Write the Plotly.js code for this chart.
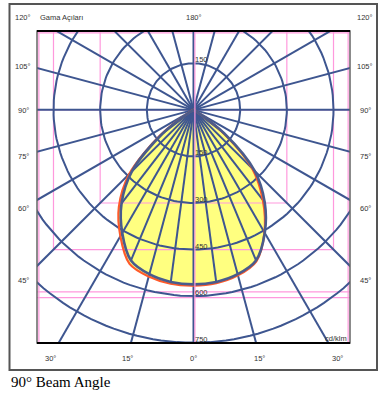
<!DOCTYPE html>
<html><head><meta charset="utf-8">
<script src="https://cdn.plot.ly/plotly-3.0.1.min.js"></script>
<style>html,body{margin:0;padding:0;background:#fff;} #chart{width:386px;height:396px;}</style>
</head><body><div id="chart"></div>
<script>
// ---- data ----
const gammaDeg     = [0, 7.5, 15, 22.5, 30, 37.5, 45, 52.5, 60, 67.5, 75, 82.5, 90];
const blueRight    = [562, 559, 548, 525, 458, 376, 278, 125, 12, 0, 0, 0, 0];
const blueLeft     = [562, 559, 548, 525, 458, 380, 280, 125, 12, 0, 0, 0, 0];
const orangeRight  = [566, 563, 552, 528, 456, 366, 266, 112, 10, 0, 0, 0, 0];
const orangeLeft   = [566, 565, 556, 537, 470, 394, 292, 135, 16, 0, 0, 0, 0];
const ringValues   = [150, 300, 450, 600, 750];
const ringLabels   = ['150', '300', '450', '600', '750'];
const spokeStepDeg = 15;
const sideLabels   = ['120°', '105°', '90°', '75°', '60°', '45°'];
const bottomLabels = ['30°', '15°', '0°', '15°', '30°'];
const topLabel     = '180°';
const axisTitle    = 'Gama Açıları';
const unitLabel    = 'cd/klm';
const caption      = '90° Beam Angle';
const pinkLevels   = [-586, -605];

// ---- layout helpers ----
const L = 37, T = 31, W = 313, H = 312;
const px = x => (x - L) / W;
const py = y => (T + H - y) / H;
const rad = d => d * Math.PI / 180;
const BLUE = '#3e5690', PINK = '#ff99dd';

function curve(right, left) {
  const x = [], y = [];
  for (let i = left.length - 1; i >= 1; i--) { const g = -gammaDeg[i]; x.push(left[i] * Math.sin(rad(g))); y.push(-left[i] * Math.cos(rad(g))); }
  for (let i = 0; i < right.length; i++) { const g = gammaDeg[i]; x.push(right[i] * Math.sin(rad(g))); y.push(-right[i] * Math.cos(rad(g))); }
  return {x, y};
}
const blueC = curve(blueRight, blueLeft);
const orangeC = curve(orangeRight, orangeLeft);

// rings
const ringX = [], ringY = [];
ringValues.forEach(r => { for (let a = 0; a <= 360; a += 2) { ringX.push(r * Math.cos(rad(a))); ringY.push(r * Math.sin(rad(a))); } ringX.push(null); ringY.push(null); });
// spokes every 15 deg
const spX = [], spY = [];
const far = 3000;
for (let g = 0; g < 360; g += spokeStepDeg) { spX.push(0, far * Math.sin(rad(g)), null); spY.push(0, -far * Math.cos(rad(g)), null); }
// intermediate spokes to the measured points
const inX = [], inY = [];
gammaDeg.forEach((g, i) => {
  if (g % spokeStepDeg !== 0) {
    if (blueRight[i] > 0) { inX.push(0, blueRight[i] * Math.sin(rad(g)), null); inY.push(0, -blueRight[i] * Math.cos(rad(g)), null); }
    if (blueLeft[i] > 0) { inX.push(0, -blueLeft[i] * Math.sin(rad(g)), null); inY.push(0, -blueLeft[i] * Math.cos(rad(g)), null); }
  }
});
// pink lines
const pkX = [], pkY = [];
const xr = [-503, 503], yr = [-751, 254];
const edgeX = 497, edgeTop = 248;
pkX.push(xr[0], xr[1], null); pkY.push(0, 0, null);
[ringValues[1], ringValues[2]].forEach(v => { pkX.push(-v, -v, v, v, null); pkY.push(yr[1], -v, -v, yr[1], null); });
pinkLevels.forEach(v => { pkX.push(xr[0], xr[1], null); pkY.push(v, v, null); });
pkX.push(-edgeX, -edgeX, null, edgeX, edgeX, null, xr[0], xr[1], null); pkY.push(yr[0], yr[1], null, yr[0], yr[1], null, edgeTop, edgeTop, null);

const SM = 0.9;
const traces = [
  {x: orangeC.x, y: orangeC.y, mode: 'lines', fill: 'toself', fillcolor: '#ffff80', line: {width: 0, shape: 'spline', smoothing: SM}, hoverinfo: 'skip'},
  {x: pkX, y: pkY, mode: 'lines', line: {color: PINK, width: 1.2}, hoverinfo: 'skip'},
  {x: ringX, y: ringY, mode: 'lines', line: {color: BLUE, width: 2}, hoverinfo: 'skip'},
  {x: spX, y: spY, mode: 'lines', line: {color: BLUE, width: 2}, hoverinfo: 'skip'},
  {x: inX, y: inY, mode: 'lines', line: {color: BLUE, width: 2}, hoverinfo: 'skip'},
  {x: orangeC.x, y: orangeC.y, mode: 'lines', line: {color: '#ff5a2a', width: 2.2, shape: 'spline', smoothing: SM}, hoverinfo: 'skip'},
  {x: blueC.x, y: blueC.y, mode: 'lines', line: {color: '#4a5c8c', width: 2.6, shape: 'spline', smoothing: SM}, hoverinfo: 'skip'}
];

const lf = {family: 'Liberation Sans, Arial, sans-serif', size: 7.5, color: '#333'};
const ann = [];
const sideY = [18, 66, 110, 156, 208, 280];
sideLabels.forEach((t, i) => {
  ann.push({xref: 'paper', yref: 'paper', x: px(23), y: py(sideY[i]), text: t, showarrow: false, xanchor: 'center', yanchor: 'middle', font: lf});
  ann.push({xref: 'paper', yref: 'paper', x: px(365), y: py(sideY[i]), text: t, showarrow: false, xanchor: 'center', yanchor: 'middle', font: lf});
});
const botX = [50, 127, 193.5, 259, 337];
bottomLabels.forEach((t, i) => ann.push({xref: 'paper', yref: 'paper', x: px(botX[i]), y: py(358), text: t, showarrow: false, xanchor: 'center', yanchor: 'middle', font: lf}));
ann.push({xref: 'paper', yref: 'paper', x: px(193.5), y: py(18), text: topLabel, showarrow: false, xanchor: 'center', yanchor: 'middle', font: lf});
ann.push({xref: 'paper', yref: 'paper', x: px(38), y: py(18), text: axisTitle, showarrow: false, xanchor: 'left', yanchor: 'middle', font: lf});
ann.push({xref: 'paper', yref: 'paper', x: px(349), y: py(338), text: unitLabel, showarrow: false, xanchor: 'right', yanchor: 'middle', font: lf});
ringValues.forEach((r, i) => {
  ann.push({xref: 'x', yref: 'y', x: 0, y: -r, text: ringLabels[i], showarrow: false, xanchor: 'left', yanchor: 'middle', yshift: 3.5, xshift: -1, font: lf});
});
ann.push({xref: 'x', yref: 'y', x: 0, y: ringValues[0], text: ringLabels[0], showarrow: false, xanchor: 'left', yanchor: 'middle', yshift: 4, xshift: -1, font: lf});
ann.push({xref: 'paper', yref: 'paper', x: px(8.5), y: py(382), text: caption, showarrow: false, xanchor: 'left', yanchor: 'middle', font: {family: 'Liberation Serif, Times New Roman, serif', size: 15, color: '#000'}});

const shapes = [
  {type: 'line', xref: 'x', yref: 'paper', xsizemode: 'pixel', xanchor: 0, x0: 1.4, x1: 1.4, y0: 0, y1: 1, line: {color: PINK, width: 1.2}, layer: 'above'},
  {type: 'rect', xref: 'paper', yref: 'paper', x0: 0, x1: 1, y0: 0, y1: 1, line: {color: '#666', width: 1.5}, layer: 'above'},
  {type: 'line', xref: 'paper', yref: 'paper', x0: 0, x1: 1, y0: 1, y1: 1, line: {color: '#000', width: 2.2}, layer: 'above'},
  {type: 'line', xref: 'paper', yref: 'paper', x0: 0, x1: 1, y0: 0, y1: 0, line: {color: '#000', width: 2}, layer: 'above'},
  {type: 'rect', xref: 'paper', yref: 'paper', x0: px(9.5), x1: px(377), y0: py(370), y1: py(4), line: {color: '#555', width: 2}, layer: 'above'}
];

const layout = {
  width: 386, height: 396,
  margin: {l: L, r: 386 - L - W, t: T, b: 396 - T - H, pad: 0},
  paper_bgcolor: '#fff', plot_bgcolor: '#fff',
  showlegend: false,
  xaxis: {range: xr, showgrid: false, zeroline: false, showticklabels: false, ticks: '', showline: false, fixedrange: true},
  yaxis: {range: yr, showgrid: false, zeroline: false, showticklabels: false, ticks: '', showline: false, fixedrange: true},
  annotations: ann, shapes: shapes
};
Plotly.newPlot('chart', traces, layout, {staticPlot: true, displayModeBar: false});
</script></body></html>
